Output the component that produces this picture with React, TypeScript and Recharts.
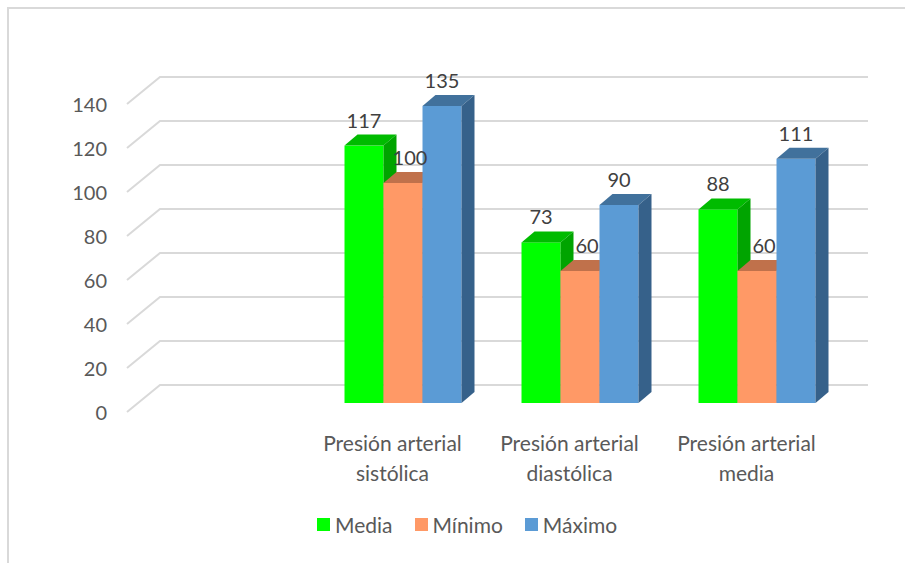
import React from 'react';
import { BarChart, Bar, XAxis, YAxis, CartesianGrid, Legend, LabelList } from 'recharts';

const categories = ['', 'Presión arterial sistólica', 'Presión arterial diastólica', 'Presión arterial media'];
const media: (number | null)[] = [null, 117, 73, 88];
const minimo: (number | null)[] = [null, 100, 60, 60];
const maximo: (number | null)[] = [null, 135, 90, 111];
const yTicks = [0, 20, 40, 60, 80, 100, 120, 140];
const seriesNames = ['Media', 'Mínimo', 'Máximo'];

const data = categories.map((c, i) => ({
  category: c,
  media: media[i],
  minimo: minimo[i],
  maximo: maximo[i],
}));

const FONT = 'Lato, "Liberation Sans", sans-serif';
const DEPTH_X = 13;
const DEPTH_Y = 11;
const FRONT_DX = -11;
const FRONT_DY = 9;
const BACK_DX = 22;
const BACK_DY = -18;

const makeShape = (front: string, top: string, side: string) => (props: any) => {
  const { x, y, width, height } = props;
  if (height == null || !isFinite(y) || !isFinite(height)) return <g />;
  const x2 = x + width;
  const yb = y + height;
  return (
    <g>
      <rect x={x} y={y} width={width} height={height} fill={front} />
      <polygon
        points={`${x},${y} ${x2},${y} ${x2 + DEPTH_X},${y - DEPTH_Y} ${x + DEPTH_X},${y - DEPTH_Y}`}
        fill={top}
      />
      <polygon
        points={`${x2},${y} ${x2 + DEPTH_X},${y - DEPTH_Y} ${x2 + DEPTH_X},${yb - DEPTH_Y} ${x2},${yb}`}
        fill={side}
      />
    </g>
  );
};

const makeLabel = (dx: number) => (props: any) => {
  const { x, y, width, value } = props;
  if (value == null) return null;
  return (
    <text
      x={Number(x) + Number(width) / 2 + dx}
      y={Number(y) - 25}
      dy="0.35em"
      textAnchor="middle"
      fill="#404040"
      fontSize={20}
      fontFamily={FONT}
    >
      {value}
    </text>
  );
};

const GridLine = (props: any) => {
  const { x1, x2, y1 } = props;
  const d = `M${x1 + FRONT_DX},${y1 + FRONT_DY} L${x1 + BACK_DX},${y1 + BACK_DY} L${x2 + BACK_DX},${y1 + BACK_DY}`;
  return <path key={props.key} d={d} fill="none" stroke="#D9D9D9" strokeWidth={2} />;
};

const XTick = (props: any) => {
  const { x, y, payload } = props;
  const v: string = payload?.value ?? '';
  if (!v) return <g />;
  const idx = v.lastIndexOf(' ');
  const l1 = v.slice(0, idx);
  const l2 = v.slice(idx + 1);
  const cx = x + FRONT_DX;
  return (
    <text x={cx} y={y} textAnchor="middle" fill="#595959" fontSize={21} fontFamily={FONT}>
      <tspan x={cx} dy={48}>{l1}</tspan>
      <tspan x={cx} dy={30}>{l2}</tspan>
    </text>
  );
};

const YTick = (props: any) => {
  const { x, y, payload } = props;
  return (
    <text x={x - 31} y={y + 9.5} dy="0.35em" textAnchor="end" fill="#595959" fontSize={20} fontFamily={FONT}>
      {payload.value}
    </text>
  );
};

const LegendContent = (props: any) => {
  const payload = [...(props.payload || [])].sort(
    (a: any, b: any) => seriesNames.indexOf(a.value) - seriesNames.indexOf(b.value)
  );
  return (
    <div style={{ display: 'flex', alignItems: 'center', fontFamily: FONT, fontSize: 21, color: '#595959', lineHeight: '25px' }}>
      {payload.map((p: any, i: number) => (
        <div key={i} style={{ display: 'flex', alignItems: 'center', marginRight: 22 }}>
          <span style={{ width: 13, height: 13, background: p.color, marginRight: 5, display: 'inline-block' }} />
          <span>{p.value}</span>
        </div>
      ))}
    </div>
  );
};

export default function App() {
  return (
    <div style={{ position: 'absolute', left: 0, top: 0, width: 907, height: 563, background: '#fff', fontFamily: FONT }}>
      <div
        style={{
          position: 'absolute',
          left: 7,
          top: 7,
          width: 898,
          height: 556,
          borderLeft: '2px solid #D9D9D9',
          borderTop: '2px solid #D9D9D9',
          boxSizing: 'border-box',
        }}
      />
      <div style={{ position: 'absolute', left: 0, top: 0 }}>
        <BarChart
          width={907}
          height={563}
          data={data}
          margin={{ top: 95, right: 61, left: 8, bottom: 60 }}
          barCategoryGap="16.67%"
          barGap={0}
        >
          <CartesianGrid vertical={false} horizontal={GridLine as any} />
          <XAxis
            dataKey="category"
            axisLine={false}
            tickLine={false}
            tickSize={0}
            tickMargin={0}
            height={100}
            interval={0}
            tick={XTick}
          />
          <YAxis
            domain={[0, 140]}
            ticks={yTicks}
            axisLine={false}
            tickLine={false}
            tickSize={0}
            tickMargin={0}
            width={130}
            tick={YTick}
          />
          <Legend
            layout="horizontal"
            verticalAlign="middle"
            align="center"
            wrapperStyle={{ left: 317, top: 512, width: 420 }}
            content={LegendContent}
          />
          <Bar dataKey="media" name={seriesNames[0]} fill="#00FF00" isAnimationActive={false} shape={makeShape('#00FF00', '#00BB00', '#00A400')}>
            <LabelList dataKey="media" content={makeLabel(0)} />
          </Bar>
          <Bar dataKey="minimo" name={seriesNames[1]} fill="#FF9966" isAnimationActive={false} shape={makeShape('#FF9966', '#C0714B', '#B8683F')}>
            <LabelList dataKey="minimo" content={makeLabel(7)} />
          </Bar>
          <Bar dataKey="maximo" name={seriesNames[2]} fill="#5B9BD5" isAnimationActive={false} shape={makeShape('#5B9BD5', '#41719C', '#36618A')}>
            <LabelList dataKey="maximo" content={makeLabel(0)} />
          </Bar>
        </BarChart>
      </div>
    </div>
  );
}
